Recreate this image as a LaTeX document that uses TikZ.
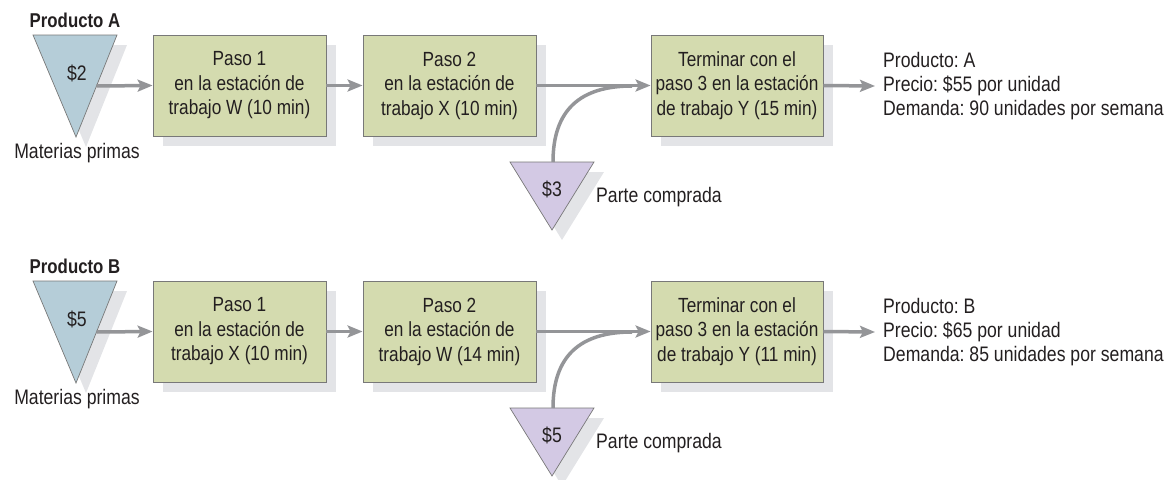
\documentclass[tikz,border=0pt]{standalone}
\usepackage{fontspec}
\setmainfont{Liberation Sans}[FakeStretch=0.84]
\usetikzlibrary{arrows.meta,shadows}
\definecolor{boxfill}{RGB}{212,219,175}
\definecolor{bluefill}{RGB}{181,205,216}
\definecolor{purplefill}{RGB}{211,201,228}
\definecolor{shadowc}{RGB}{227,228,231}
\definecolor{edgec}{RGB}{120,120,120}
\definecolor{arrowc}{RGB}{148,149,152}
\definecolor{textc}{RGB}{35,31,32}
\frenchspacing
\begin{document}
\begin{tikzpicture}[x=1pt,y=-1pt,
  every node/.style={text=textc,font=\fontsize{21}{24}\selectfont},
  myshadow/.style={drop shadow={shadow xshift=10pt,shadow yshift=-10pt,opacity=1,fill=shadowc}},
  stepbox/.style={draw=edgec,line width=0.8pt,fill=boxfill,minimum width=173pt,minimum height=101pt,align=center,inner sep=0pt,myshadow,font=\fontsize{20.5}{24.5}\selectfont},
  tri/.style={draw=edgec,line width=0.7pt,myshadow},
  flow/.style={draw=arrowc,line width=3.5pt,-{Stealth[length=15pt,width=12pt,inset=3pt]}},
  curveline/.style={draw=arrowc,line width=3.5pt},
  title/.style={font=\fontsize{20}{22}\selectfont\bfseries},
  info/.style={align=left,anchor=west,font=\fontsize{21}{24}\selectfont,inner sep=0pt}
]
\useasboundingbox (0,0) rectangle (1172,479);

\foreach \dy/\pr/\rm/\pa/\sa/\sb/\tb/\tc/\pc/\pdem in
  {0/A/\$2/\$3/W/X/10/15/55/90, 246/B/\$5/\$5/X/W/14/11/65/85}{
  \begin{scope}[yshift=-\dy pt]
  % raw material triangle
  \path[tri,fill=bluefill] (33,35) -- (117,35) -- (76,137) -- cycle;
  \node (rm\pr) at (77,73) {\rm};
  \coordinate (rmout\pr) at (96.5,86);
  \node[title] (ttl\pr) at (75,20) {Producto \pr};
  \node (mp\pr) at (77,153) {Materias primas};
  % purchased part triangle
  \path[tri,fill=purplefill] (510,162) -- (594,162) -- (552,230) -- cycle;
  \node (pp\pr) at (552,189) {\pa};
  \coordinate (ppout\pr) at (553,162);
  \node[anchor=west,inner sep=0pt] (pl\pr) at (596,197) {Parte comprada};
  % boxes
  \node[stepbox] (s1\pr) at (239.5,85.5) {Paso 1\\en la estación de\\trabajo \sa\ (10 min)};
  \node[stepbox] (s2\pr) at (449.5,85.5) {Paso 2\\en la estación de\\trabajo \sb\ (\tb\ min)};
  \node[stepbox,minimum width=172pt] (s3\pr) at (737,85.5) {Terminar con el\\paso 3 en la estación\\de trabajo Y (\tc\ min)};
  \node[info] (inf\pr) at (883,86) {Producto: \pr\\Precio: \$\pc\ por unidad\\Demanda: \pdem\ unidades por semana};
  \coordinate (join\pr) at (632,86);
  % connectors
  \draw[flow] (rmout\pr) -- (s1\pr.west);
  \draw[flow] (s1\pr.east) -- (s2\pr.west);
  \draw[curveline] (ppout\pr) .. controls (553,110) and (580,86) .. (join\pr);
  \draw[flow] (s2\pr.east) -- (s3\pr.west);
  \draw[flow] (s3\pr.east) -- ([xshift=-8pt]inf\pr.west);
  \end{scope}
}
\end{tikzpicture}
\end{document}
